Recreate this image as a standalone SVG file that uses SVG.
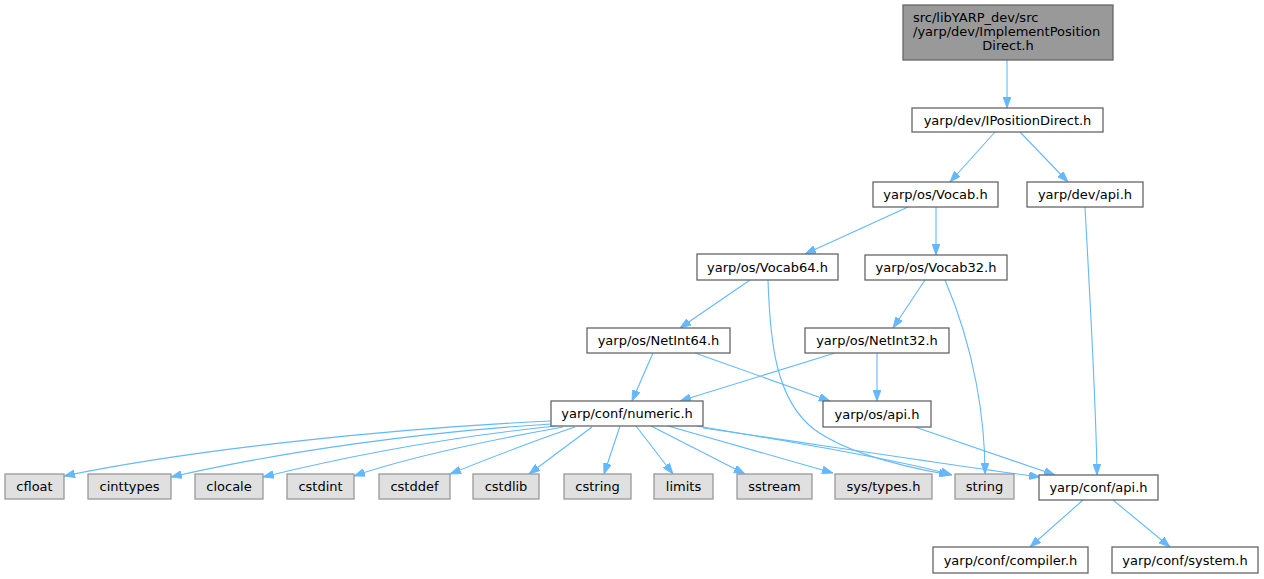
<svg xmlns="http://www.w3.org/2000/svg" width="1264" height="579" viewBox="0 0 1264 579">
<style>
.n rect{fill:#ffffff;stroke:#666666;stroke-width:1.3}
.g rect{fill:#e0e0e0;stroke:#999999;stroke-width:1.3}
.top rect{fill:#999999;stroke:#666666;stroke-width:1.3}
text{font-family:"DejaVu Sans",sans-serif;font-size:13px;fill:#000000}
.c text{text-anchor:middle}
#edges path{fill:none;stroke:#63b8ff;stroke-width:1.1;marker-end:url(#a)}
</style>
<defs>
<marker id="a" viewBox="0 0 11 8" refX="11" refY="4" markerWidth="11" markerHeight="8" markerUnits="userSpaceOnUse" orient="auto">
<path d="M0,0 L11,4 L0,8 z" fill="#63b8ff" stroke="#63b8ff" stroke-width="0.8"/>
</marker>
</defs>
<rect width="1264" height="579" fill="#ffffff"/>
<g id="edges">
<path d="M1007,60 L1007,108"/>
<path d="M995,132 L950,182"/>
<path d="M1020,132 L1068,182"/>
<path d="M908,207 L805,254"/>
<path d="M936,207 L936,255"/>
<path d="M1085,207 C1090,300 1096,400 1097,475"/>
<path d="M750,280 L680,328"/>
<path d="M768,280 C770,340 775,400 815,430 C850,455 910,468 950,475"/>
<path d="M925,280 L893,328"/>
<path d="M945,280 C975,350 985,420 985,474"/>
<path d="M653,353 L632,401"/>
<path d="M695,353 L830,401"/>
<path d="M835,353 L680,401"/>
<path d="M877,353 L877,401"/>
<path d="M915,427 L1055,475"/>
<path d="M551,421 C400,428 200,448 64,476"/>
<path d="M551,424 C420,432 280,452 171,477"/>
<path d="M556,426 C440,438 340,458 263,477"/>
<path d="M563,427 C480,442 400,460 354,476"/>
<path d="M575,427 C530,442 480,462 450,474"/>
<path d="M592,427 L529,474"/>
<path d="M620,426 L604,474"/>
<path d="M636,426 L673,474"/>
<path d="M651,426 L745,474"/>
<path d="M668,426 L833,473"/>
<path d="M697,426 C780,440 900,460 952,475"/>
<path d="M703,428 C800,442 950,465 1040,477"/>
<path d="M1083,500 L1030,547"/>
<path d="M1113,500 L1170,547"/>
</g>
<g id="n_top" class="top"><rect x="903" y="5" width="210" height="55"/>
<text x="913" y="22">src/libYARP_dev/src</text>
<text x="913" y="36">/yarp/dev/ImplementPosition</text>
<text x="1008" y="50" text-anchor="middle">Direct.h</text></g>
<g id="n_ipd" class="n c"><rect x="912" y="108" width="191" height="24"/><text x="1007.5" y="125">yarp/dev/IPositionDirect.h</text></g>
<g id="n_vocab" class="n c"><rect x="873" y="182" width="125" height="25"/><text x="935.5" y="199">yarp/os/Vocab.h</text></g>
<g id="n_devapi" class="n c"><rect x="1027" y="182" width="116" height="25"/><text x="1085" y="199">yarp/dev/api.h</text></g>
<g id="n_vocab64" class="n c"><rect x="697" y="254" width="141" height="26"/><text x="767.5" y="272">yarp/os/Vocab64.h</text></g>
<g id="n_vocab32" class="n c"><rect x="865" y="255" width="142" height="25"/><text x="936" y="272">yarp/os/Vocab32.h</text></g>
<g id="n_netint64" class="n c"><rect x="587" y="328" width="143" height="25"/><text x="658.5" y="345">yarp/os/NetInt64.h</text></g>
<g id="n_netint32" class="n c"><rect x="805" y="328" width="144" height="25"/><text x="877" y="345">yarp/os/NetInt32.h</text></g>
<g id="n_numeric" class="n c"><rect x="551" y="401" width="152" height="25"/><text x="627" y="418">yarp/conf/numeric.h</text></g>
<g id="n_osapi" class="n c"><rect x="823" y="401" width="108" height="26"/><text x="877" y="419">yarp/os/api.h</text></g>
<g id="n_cfloat" class="g c"><rect x="5" y="474" width="59" height="25"/><text x="34.5" y="491">cfloat</text></g>
<g id="n_cinttypes" class="g c"><rect x="88" y="474" width="83" height="25"/><text x="129.5" y="491">cinttypes</text></g>
<g id="n_clocale" class="g c"><rect x="195" y="474" width="68" height="25"/><text x="229" y="491">clocale</text></g>
<g id="n_cstdint" class="g c"><rect x="287" y="474" width="67" height="25"/><text x="320.5" y="491">cstdint</text></g>
<g id="n_cstddef" class="g c"><rect x="379" y="474" width="71" height="25"/><text x="414.5" y="491">cstddef</text></g>
<g id="n_cstdlib" class="g c"><rect x="473" y="474" width="66" height="25"/><text x="506" y="491">cstdlib</text></g>
<g id="n_cstring" class="g c"><rect x="564" y="474" width="67" height="25"/><text x="597.5" y="491">cstring</text></g>
<g id="n_limits" class="g c"><rect x="654" y="474" width="59" height="25"/><text x="683.5" y="491">limits</text></g>
<g id="n_sstream" class="g c"><rect x="737" y="474" width="75" height="25"/><text x="774.5" y="491">sstream</text></g>
<g id="n_systypes" class="g c"><rect x="835" y="474" width="97" height="25"/><text x="883.5" y="491">sys/types.h</text></g>
<g id="n_string" class="g c"><rect x="955" y="474" width="59" height="25"/><text x="984.5" y="491">string</text></g>
<g id="n_confapi" class="n c"><rect x="1039" y="475" width="119" height="25"/><text x="1098.5" y="492">yarp/conf/api.h</text></g>
<g id="n_compiler" class="n c"><rect x="933" y="547" width="155" height="26"/><text x="1010.5" y="565">yarp/conf/compiler.h</text></g>
<g id="n_system" class="n c"><rect x="1112" y="547" width="146" height="26"/><text x="1185" y="565">yarp/conf/system.h</text></g>
</svg>
